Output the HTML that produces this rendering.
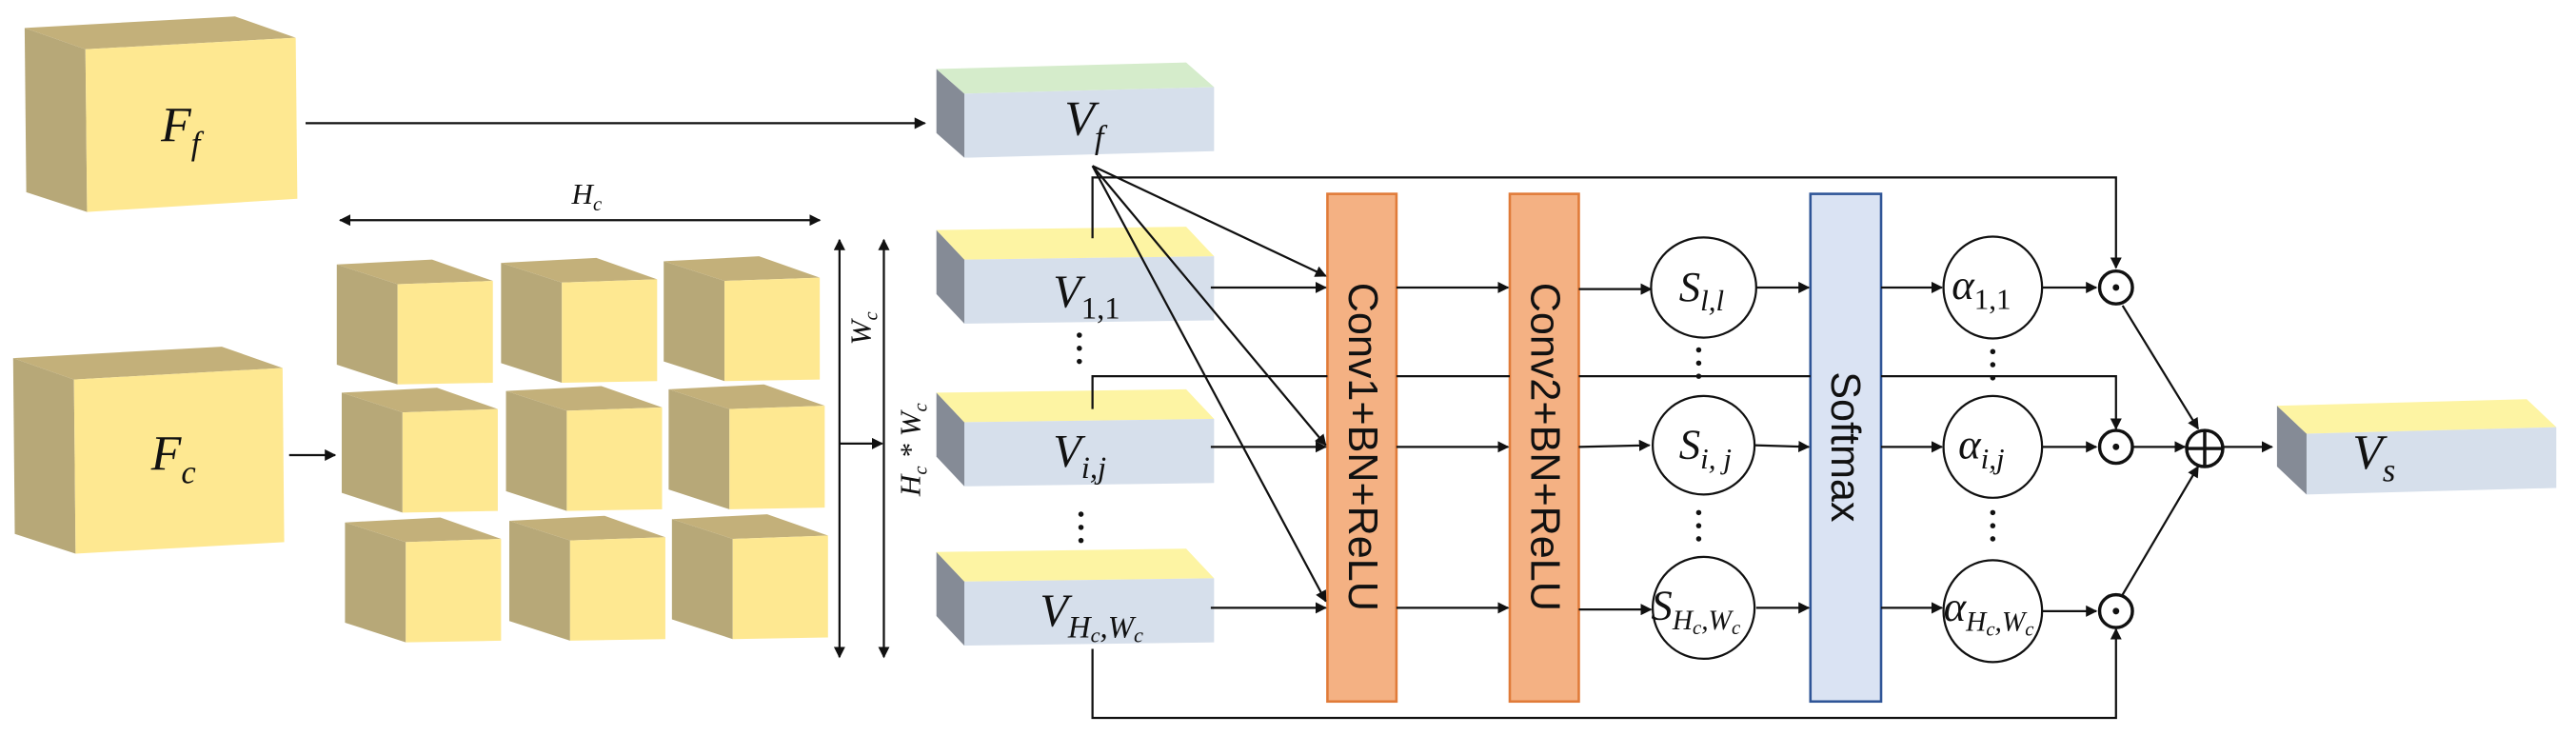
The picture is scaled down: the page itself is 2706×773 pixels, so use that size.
<!DOCTYPE html>
<html><head><meta charset="utf-8"><style>
html,body{margin:0;padding:0;background:#fff;}
svg{display:block;}
.m{font-family:"Liberation Serif",serif;font-style:italic;fill:#111;}
.s{font-family:"Liberation Sans",sans-serif;fill:#111;}
</style></head><body>
<svg width="2706" height="773" viewBox="0 0 1568 448" preserveAspectRatio="none" xmlns="http://www.w3.org/2000/svg">
<defs>
<marker id="a" viewBox="0 0 10 10" refX="9" refY="5" markerWidth="7" markerHeight="7" orient="auto-start-reverse" markerUnits="userSpaceOnUse"><path d="M0,0 L10,5 L0,10 z" fill="#111"/></marker>
</defs>
<g stroke="none">
<!-- F_f -->
<polygon points="15,17 52,30 53,129 16,117" fill="#B7A878"/>
<polygon points="15,17 143,10 180,23 52,30" fill="#C3B07A"/>
<polygon points="52,30 180,23 181,121 53,129" fill="#FEE891"/>
<!-- F_c -->
<polygon points="8,218 45,231 46,337 9,325" fill="#B7A878"/>
<polygon points="8,218 135,211 172,224 45,231" fill="#C3B07A"/>
<polygon points="45,231 172,224 173,330 46,337" fill="#FEE891"/>
</g>
<g id="grid">
<g transform="translate(242,173)"><polygon points="-37,-12 0,0 0,61 -37,49" fill="#B7A878"/><polygon points="-37,-12 21,-15 58,-2 0,0" fill="#C3B07A"/><polygon points="0,0 58,-2 58,60 0,61" fill="#FEE891"/></g>
<g transform="translate(342,172)"><polygon points="-37,-12 0,0 0,61 -37,49" fill="#B7A878"/><polygon points="-37,-12 21,-15 58,-2 0,0" fill="#C3B07A"/><polygon points="0,0 58,-2 58,60 0,61" fill="#FEE891"/></g>
<g transform="translate(441,171)"><polygon points="-37,-12 0,0 0,61 -37,49" fill="#B7A878"/><polygon points="-37,-12 21,-15 58,-2 0,0" fill="#C3B07A"/><polygon points="0,0 58,-2 58,60 0,61" fill="#FEE891"/></g>
<g transform="translate(245,251)"><polygon points="-37,-12 0,0 0,61 -37,49" fill="#B7A878"/><polygon points="-37,-12 21,-15 58,-2 0,0" fill="#C3B07A"/><polygon points="0,0 58,-2 58,60 0,61" fill="#FEE891"/></g>
<g transform="translate(345,250)"><polygon points="-37,-12 0,0 0,61 -37,49" fill="#B7A878"/><polygon points="-37,-12 21,-15 58,-2 0,0" fill="#C3B07A"/><polygon points="0,0 58,-2 58,60 0,61" fill="#FEE891"/></g>
<g transform="translate(444,249)"><polygon points="-37,-12 0,0 0,61 -37,49" fill="#B7A878"/><polygon points="-37,-12 21,-15 58,-2 0,0" fill="#C3B07A"/><polygon points="0,0 58,-2 58,60 0,61" fill="#FEE891"/></g>
<g transform="translate(247,330)"><polygon points="-37,-12 0,0 0,61 -37,49" fill="#B7A878"/><polygon points="-37,-12 21,-15 58,-2 0,0" fill="#C3B07A"/><polygon points="0,0 58,-2 58,60 0,61" fill="#FEE891"/></g>
<g transform="translate(347,329)"><polygon points="-37,-12 0,0 0,61 -37,49" fill="#B7A878"/><polygon points="-37,-12 21,-15 58,-2 0,0" fill="#C3B07A"/><polygon points="0,0 58,-2 58,60 0,61" fill="#FEE891"/></g>
<g transform="translate(446,328)"><polygon points="-37,-12 0,0 0,61 -37,49" fill="#B7A878"/><polygon points="-37,-12 21,-15 58,-2 0,0" fill="#C3B07A"/><polygon points="0,0 58,-2 58,60 0,61" fill="#FEE891"/></g>
</g>
<!-- V boxes -->
<g transform="translate(587,57)"><polygon points="-17,-15 0,0 0,39 -17,24" fill="#858B96"/><polygon points="-17,-15 135,-19 152,-4 0,0" fill="#D5ECCB"/><polygon points="0,0 152,-4 152,35 0,39" fill="#D6DFEB"/></g>
<g transform="translate(587,158)"><polygon points="-17,-18 0,0 0,39 -17,21" fill="#858B96"/><polygon points="-17,-18 135,-20 152,-2 0,0" fill="#FDF4A3"/><polygon points="0,0 152,-2 152,37 0,39" fill="#D6DFEB"/></g>
<g transform="translate(587,257)"><polygon points="-17,-18 0,0 0,39 -17,21" fill="#858B96"/><polygon points="-17,-18 135,-20 152,-2 0,0" fill="#FDF4A3"/><polygon points="0,0 152,-2 152,37 0,39" fill="#D6DFEB"/></g>
<g transform="translate(587,354)"><polygon points="-17,-18 0,0 0,39 -17,21" fill="#858B96"/><polygon points="-17,-18 135,-20 152,-2 0,0" fill="#FDF4A3"/><polygon points="0,0 152,-2 152,37 0,39" fill="#D6DFEB"/></g>
<g transform="translate(1404,264)"><polygon points="-18,-17 0,0 0,37 -18,20" fill="#858B96"/><polygon points="-18,-17 134,-21 152,-4 0,0" fill="#FDF4A3"/><polygon points="0,0 152,-4 152,33 0,37" fill="#D6DFEB"/></g>

<!-- blocks -->
<rect x="808" y="118" width="42" height="309" fill="#F4B183" stroke="#E07B39" stroke-width="1.5"/>
<rect x="919" y="118" width="42" height="309" fill="#F4B183" stroke="#E07B39" stroke-width="1.5"/>
<rect x="1102" y="118" width="43" height="309" fill="#DAE3F3" stroke="#2F5597" stroke-width="1.5"/>
<text class="s" transform="translate(821,272) rotate(90)" text-anchor="middle" font-size="25">Conv1+BN+ReLU</text>
<text class="s" transform="translate(932,272) rotate(90)" text-anchor="middle" font-size="25">Conv2+BN+ReLU</text>
<text class="s" transform="translate(1115,272) rotate(90)" text-anchor="middle" font-size="25">Softmax</text>

<g fill="none" stroke="#111" stroke-width="1.3">
<!-- F arrows -->
<line x1="186" y1="75" x2="563" y2="75" marker-end="url(#a)"/>
<line x1="176" y1="277" x2="204" y2="277" marker-end="url(#a)"/>
<line x1="207" y1="134" x2="499" y2="134" marker-start="url(#a)" marker-end="url(#a)"/>
<line x1="511" y1="146" x2="511" y2="400" marker-start="url(#a)" marker-end="url(#a)"/>
<line x1="538" y1="146" x2="538" y2="400" marker-start="url(#a)" marker-end="url(#a)"/>
<line x1="511" y1="270" x2="537" y2="270" marker-end="url(#a)"/>
<!-- fan from V_f -->
<line x1="665" y1="101" x2="807" y2="168" marker-end="url(#a)"/>
<line x1="665" y1="101" x2="807" y2="271" marker-end="url(#a)"/>
<line x1="665" y1="101" x2="807" y2="366" marker-end="url(#a)"/>
<polyline points="665,145 665,108 1288,108 1288,163" marker-end="url(#a)"/>
<polyline points="665,249 665,229 808,229"/>
<polyline points="850,229 919,229"/>
<polyline points="961,229 1102,229"/>
<polyline points="1145,229 1288,229 1288,261" marker-end="url(#a)"/>
<polyline points="665,395 665,437 1288,437 1288,383" marker-end="url(#a)"/>
<!-- rows -->
<line x1="737" y1="175" x2="807" y2="175" marker-end="url(#a)"/>
<line x1="737" y1="272" x2="807" y2="272" marker-end="url(#a)"/>
<line x1="737" y1="370" x2="807" y2="370" marker-end="url(#a)"/>
<line x1="850" y1="175" x2="918" y2="175" marker-end="url(#a)"/>
<line x1="850" y1="272" x2="918" y2="272" marker-end="url(#a)"/>
<line x1="850" y1="370" x2="918" y2="370" marker-end="url(#a)"/>
<line x1="961" y1="176" x2="1005" y2="176" marker-end="url(#a)"/>
<line x1="961" y1="272" x2="1004" y2="271" marker-end="url(#a)"/>
<line x1="961" y1="371" x2="1005" y2="371" marker-end="url(#a)"/>
<line x1="1069" y1="175" x2="1101" y2="175" marker-end="url(#a)"/>
<line x1="1068" y1="271" x2="1101" y2="272" marker-end="url(#a)"/>
<line x1="1069" y1="370" x2="1101" y2="370" marker-end="url(#a)"/>
<line x1="1145" y1="175" x2="1182" y2="175" marker-end="url(#a)"/>
<line x1="1145" y1="272" x2="1182" y2="272" marker-end="url(#a)"/>
<line x1="1145" y1="370" x2="1182" y2="370" marker-end="url(#a)"/>
<line x1="1243" y1="175" x2="1276" y2="175" marker-end="url(#a)"/>
<line x1="1243" y1="272" x2="1276" y2="272" marker-end="url(#a)"/>
<line x1="1243" y1="372" x2="1276" y2="372" marker-end="url(#a)"/>
<line x1="1292" y1="186" x2="1338" y2="261" marker-end="url(#a)"/>
<line x1="1298" y1="272" x2="1330" y2="272" marker-end="url(#a)"/>
<line x1="1292" y1="362" x2="1338" y2="284" marker-end="url(#a)"/>
<line x1="1353" y1="272" x2="1383" y2="272" marker-end="url(#a)"/>
<!-- circles -->
<ellipse cx="1037" cy="175" rx="32" ry="30.5" fill="#fff"/>
<ellipse cx="1037" cy="271" rx="31" ry="30" fill="#fff"/>
<ellipse cx="1037" cy="370" rx="31" ry="31" fill="#fff"/>
<ellipse cx="1213" cy="175" rx="30" ry="31" fill="#fff"/>
<ellipse cx="1213" cy="272" rx="30" ry="31" fill="#fff"/>
<ellipse cx="1213" cy="372" rx="30" ry="31" fill="#fff"/>
<g stroke-width="2">
<circle cx="1288" cy="175" r="10" fill="#fff"/>
<circle cx="1288" cy="272" r="10" fill="#fff"/>
<circle cx="1288" cy="372" r="10" fill="#fff"/>
<circle cx="1342" cy="273" r="11" fill="#fff"/>
<line x1="1331" y1="273" x2="1353" y2="273"/>
<line x1="1342" y1="262" x2="1342" y2="284"/>
</g>
</g>
<g fill="#111">
<circle cx="1288" cy="175" r="2"/><circle cx="1288" cy="272" r="2"/><circle cx="1288" cy="372" r="2"/>
<!-- vertical dots -->
<circle cx="657" cy="204" r="1.6"/><circle cx="657" cy="212" r="1.6"/><circle cx="657" cy="220" r="1.6"/>
<circle cx="658" cy="313" r="1.6"/><circle cx="658" cy="321" r="1.6"/><circle cx="658" cy="329" r="1.6"/>
<circle cx="1034" cy="213" r="1.6"/><circle cx="1034" cy="221" r="1.6"/><circle cx="1034" cy="229" r="1.6"/>
<circle cx="1034" cy="312" r="1.6"/><circle cx="1034" cy="320" r="1.6"/><circle cx="1034" cy="328" r="1.6"/>
<circle cx="1213" cy="214" r="1.6"/><circle cx="1213" cy="222" r="1.6"/><circle cx="1213" cy="230" r="1.6"/>
<circle cx="1213" cy="312" r="1.6"/><circle cx="1213" cy="320" r="1.6"/><circle cx="1213" cy="328" r="1.6"/>
</g>
<!-- labels -->
<text class="m" x="98" y="86" font-size="30">F<tspan font-size="20" dy="8">f</tspan></text>
<text class="m" x="92" y="286" font-size="30">F<tspan font-size="20" dy="8">c</tspan></text>
<text class="m" x="348" y="124" font-size="18">H<tspan font-size="12" dy="4">c</tspan></text>
<text class="m" transform="translate(530,210) rotate(-90)" font-size="18">W<tspan font-size="12" dy="4">c</tspan></text>
<text class="m" transform="translate(560,302) rotate(-90)" font-size="18">H<tspan font-size="12" dy="4">c</tspan><tspan dy="-4"> * W</tspan><tspan font-size="12" dy="4">c</tspan></text>
<text class="m" x="648" y="82" font-size="30">V<tspan font-size="20" dy="8">f</tspan></text>
<text class="m" x="641" y="187" font-size="28">V<tspan font-style="normal" font-size="19" dy="7">1,1</tspan></text>
<text class="m" x="641" y="284" font-size="28">V<tspan font-size="19" dy="7">i,j</tspan></text>
<text class="m" x="633" y="381" font-size="28">V<tspan font-size="19" dy="7">H<tspan font-size="13" dy="3">c</tspan><tspan dy="-3">,W</tspan><tspan font-size="13" dy="3">c</tspan></tspan></text>
<text class="m" x="1432" y="285" font-size="30">V<tspan font-size="20" dy="8">s</tspan></text>
<text class="m" x="1022" y="183" font-size="26">S<tspan font-size="18" dy="6">l,l</tspan></text>
<text class="m" x="1022" y="279" font-size="26">S<tspan font-size="18" dy="6">i, j</tspan></text>
<text class="m" x="1005" y="377" font-size="26">S<tspan font-size="17" dy="6">H<tspan font-size="12" dy="3">c</tspan><tspan dy="-3">,W</tspan><tspan font-size="12" dy="3">c</tspan></tspan></text>
<text class="m" x="1188" y="182" font-size="26">α<tspan font-style="normal" font-size="18" dy="6">1,1</tspan></text>
<text class="m" x="1192" y="279" font-size="26">α<tspan font-size="18" dy="6">i,j</tspan></text>
<text class="m" x="1183" y="378" font-size="26">α<tspan font-size="17" dy="6">H<tspan font-size="12" dy="3">c</tspan><tspan dy="-3">,W</tspan><tspan font-size="12" dy="3">c</tspan></tspan></text>
</svg>
</body></html>
